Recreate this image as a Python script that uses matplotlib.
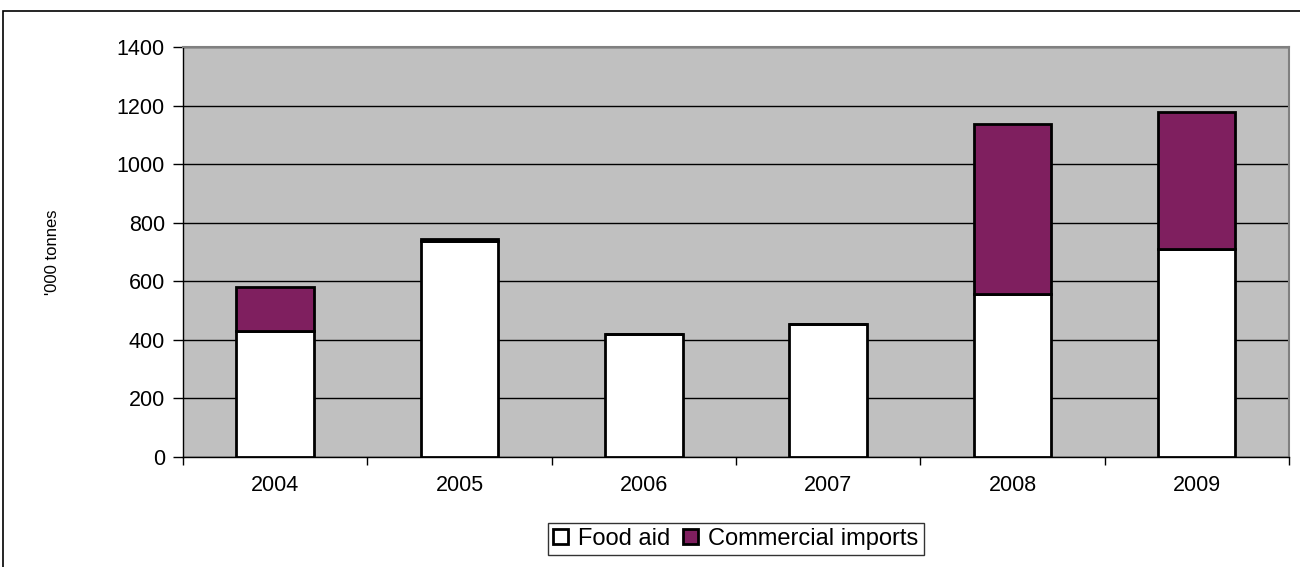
import numpy as np
import matplotlib.pyplot as plt
from matplotlib.patches import Rectangle

plt.rcParams['font.family'] = ['Liberation Sans', 'DejaVu Sans']

years = ['2004', '2005', '2006', '2007', '2008', '2009']
food_aid = [432, 737, 420, 455, 558, 712]
commercial = [150, 8, 0, 0, 579, 466]

fig = plt.figure(figsize=(13, 5.67), dpi=100)
ax = fig.add_axes([0.1408, 0.194, 0.8507, 0.723])

# outer frame around the whole chart
fig.patches.append(Rectangle((3 / 1300, -0.1), 1.2, 1 - 11 / 567 + 0.1,
                             transform=fig.transFigure, fill=False,
                             edgecolor='black', linewidth=1.2))

x = np.arange(len(years))
w = 0.42
ax.bar(x, food_aid, w, color='white', edgecolor='black', linewidth=2,
       label='Food aid', zorder=3)
ax.bar(x, commercial, w, bottom=food_aid, color='#7f1f5f', edgecolor='black',
       linewidth=2, label='Commercial imports', zorder=3)

ax.set_facecolor('#c0c0c0')
ax.set_xlim(-0.5, len(years) - 0.5)
ax.set_ylim(0, 1400)
ax.set_yticks(np.arange(0, 1401, 200))
ax.yaxis.grid(True, color='black', linewidth=1)
ax.set_axisbelow(True)

ax.set_xticks(x)
ax.set_xticklabels(years)
ax.set_xticks(np.arange(-0.5, len(years), 1), minor=True)
ax.tick_params(axis='x', which='major', length=0, pad=13, labelsize=15.5)
ax.tick_params(axis='x', which='minor', length=6, direction='out', width=1)
ax.tick_params(axis='y', length=7, direction='out', width=1, pad=6, labelsize=15.5)

for side in ['top', 'right']:
    ax.spines[side].set_color('#808080')
    ax.spines[side].set_linewidth(1.5)
for side in ['left', 'bottom']:
    ax.spines[side].set_color('black')
    ax.spines[side].set_linewidth(1)

ax.set_ylabel("'000 tonnes", fontsize=12)
ax.yaxis.set_label_coords(-0.111, 0.5)

ax.legend(loc='upper center', bbox_to_anchor=(0.5, -0.16), ncol=2,
          frameon=True, fancybox=False, edgecolor='black', fontsize=17,
          handlelength=0.6, handleheight=0.6, handletextpad=0.45,
          columnspacing=0.55, borderpad=0.22, borderaxespad=0)

fig.savefig('out.png', dpi=100)
